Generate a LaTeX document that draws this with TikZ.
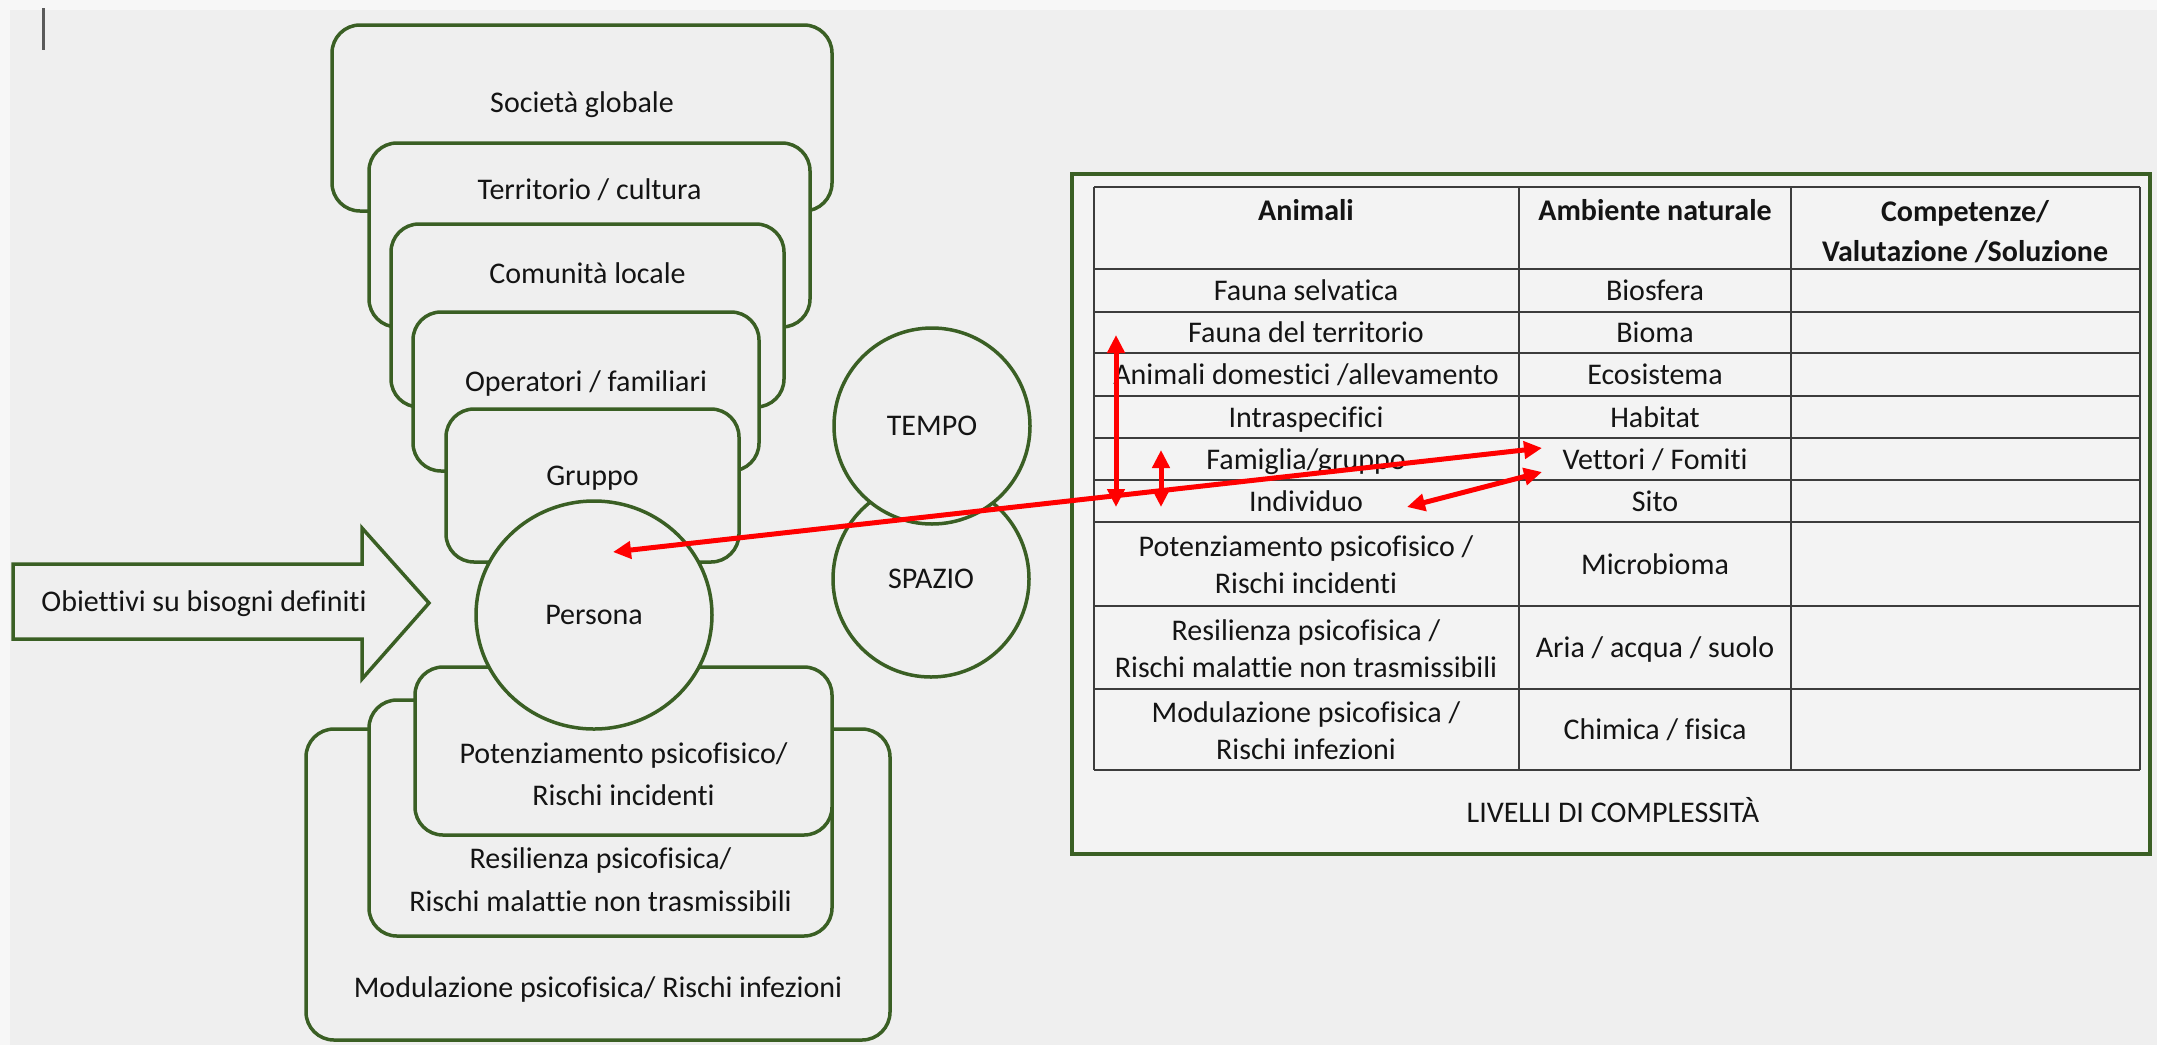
\documentclass[tikz,border=0pt]{standalone}
\usepackage{fontspec}
\setmainfont{Carlito}[Ligatures=NoCommon]
\usetikzlibrary{arrows.meta,shapes.geometric}

\definecolor{bgc}{HTML}{EFEFEF}
\definecolor{paper}{HTML}{F7F7F7}
\definecolor{tblc}{HTML}{F3F3F3}
\definecolor{grn}{HTML}{3A5F24}
\definecolor{ink}{HTML}{141414}
\definecolor{gridc}{HTML}{3C3C3C}
\definecolor{cursorc}{HTML}{5A5A5A}

\begin{document}
\begin{tikzpicture}[x=1pt,y=-1pt,
  every node/.style={font=\fontsize{30}{37}\selectfont, text=ink},
  box/.style={rectangle, draw=grn, line width=3.5pt, fill=bgc,
              rounded corners=28pt, inner sep=0pt},
  ring/.style={draw=grn, line width=3.5pt, fill=bgc, inner sep=0pt},
  lbl/.style={inner sep=0pt, text height=24pt, text depth=4pt},
  lbltwo/.style={inner sep=0pt, align=center},
  bold/.style={font=\fontsize{30}{40}\selectfont\bfseries},
  rarr/.style={draw=red, line width=5pt,
               arrows={Triangle[length=18pt,width=17pt]-Triangle[length=18pt,width=17pt]}}]

% page
\fill[paper] (0,0) rectangle (2157,1045);
\fill[bgc] (10,10) rectangle (2157,1045);
\useasboundingbox (0,0) rectangle (2157,1045);
\draw[cursorc, line width=3pt] (43,8) -- (43,50);

% upper stack of levels
\node[box, minimum width=500pt, minimum height=186pt] (soc) at (582,118) {};
\node[lbl] (socT) at (582,102) {Società globale};
\node[box, minimum width=441pt, minimum height=184pt] (terr) at (589.5,235) {};
\node[lbl] (terrT) at (589.5,189) {Territorio / cultura};
\node[box, minimum width=393pt, minimum height=183pt] (com) at (587.5,315.5) {};
\node[lbl] (comT) at (587.5,273) {Comunità locale};
\node[box, minimum width=346pt, minimum height=159pt] (ope) at (586,391.5) {};
\node[lbl] (opeT) at (586,381) {Operatori / familiari};
\node[box, minimum width=293pt, minimum height=153pt] (grp) at (592.5,485.5) {};
\node[lbl] (grpT) at (592.5,475) {Gruppo};

% lower stack of levels
\node[box, minimum width=584pt, minimum height=311pt] (mod) at (598,884.5) {};
\node[lbl] (modT) at (598,987) {Modulazione psicofisica/ Rischi infezioni};
\node[box, minimum width=463pt, minimum height=236pt] (res) at (600.5,818) {};
\node[lbltwo, font=\fontsize{30}{43}\selectfont] (resT) at (600.5,880)
  {Resilienza psicofisica/\\Rischi malattie non trasmissibili};
\node[box, minimum width=417pt, minimum height=168pt] (pot) at (623.5,751) {};
\node[lbltwo, font=\fontsize{30}{42}\selectfont] (potT) at (623.5,774)
  {Potenziamento psicofisico/\\Rischi incidenti};

% person, space and time
\node[ring, ellipse, minimum width=236pt, minimum height=228pt] (persona) at (594,615) {Persona};
\node[ring, circle, minimum size=196pt] (spazio) at (931,579) {SPAZIO};
\node[ring, circle, minimum size=196pt] (tempo) at (932,426) {TEMPO};

% goals arrow
\draw[draw=grn, line width=3.5pt, fill=bgc, line join=miter]
  (13,564) -- (362,564) -- (362,528) -- (429,603) -- (362,679)
  -- (362,639) -- (13,639) -- cycle;
\node[lbl] (goals) at (204,601) {Obiettivi su bisogni definiti};

% table of complexity levels
\node[rectangle, draw=grn, line width=4pt, fill=tblc, inner sep=0pt,
      minimum width=1078pt, minimum height=680pt] (frame) at (1611,514) {};
\foreach \yy in {187,269,312,353,396,438,480,522,606,689,770}
  \draw[gridc, line width=2.5pt] (1094,\yy) -- (2140,\yy);
\foreach \xx in {1094,1519,1791,2140}
  \draw[gridc, line width=2.5pt] (\xx,187) -- (\xx,770);

\node[lbl, bold] (hA) at (1306,210) {Animali};
\node[lbl, bold] (hB) at (1655,210) {Ambiente naturale};
\node[lbltwo, bold] (hC) at (1965,232) {Competenze/\\Valutazione /Soluzione};

\node[lbl] (a1) at (1306,290.5) {Fauna selvatica};
\node[lbl] (a2) at (1306,332.5) {Fauna del territorio};
\node[lbl] (a3) at (1306,374.5) {Animali domestici /allevamento};
\node[lbl] (a4) at (1306,417) {Intraspecifici};
\node[lbl] (a5) at (1306,459) {Famiglia/gruppo};
\node[lbl] (a6) at (1306,501) {Individuo};
\node[lbltwo] (a7) at (1306,565) {Potenziamento psicofisico /\\Rischi incidenti};
\node[lbltwo] (a8) at (1306,649) {Resilienza psicofisica /\\Rischi malattie non trasmissibili};
\node[lbltwo] (a9) at (1306,731) {Modulazione psicofisica /\\Rischi infezioni};

\node[lbl] (b1) at (1655,290.5) {Biosfera};
\node[lbl] (b2) at (1655,332.5) {Bioma};
\node[lbl] (b3) at (1655,374.5) {Ecosistema};
\node[lbl] (b4) at (1655,417) {Habitat};
\node[lbl] (b5) at (1655,459) {Vettori / Fomiti};
\node[lbl] (b6) at (1655,501) {Sito};
\node[lbl] (b7) at (1655,564) {Microbioma};
\node[lbl] (b8) at (1655,647.5) {Aria / acqua / suolo};
\node[lbl] (b9) at (1655,729.5) {Chimica / fisica};

\node[lbl] (levels) at (1613,812) {LIVELLI DI COMPLESSITÀ};

% red links
\coordinate (pA) at (613,552);
\coordinate (vA) at (1542,448);
\coordinate (vB) at (1542,472);
\coordinate (iB) at (1407,507);
\coordinate (u1) at (1116,335);
\coordinate (d1) at (1116,507);
\coordinate (u2) at (1161,450);
\coordinate (d2) at (1161,507);
\draw[rarr] (u1) -- (d1);
\draw[rarr] (u2) -- (d2);
\draw[rarr] (pA) -- (vA);
\draw[rarr] (iB) -- (vB);
\end{tikzpicture}
\end{document}
